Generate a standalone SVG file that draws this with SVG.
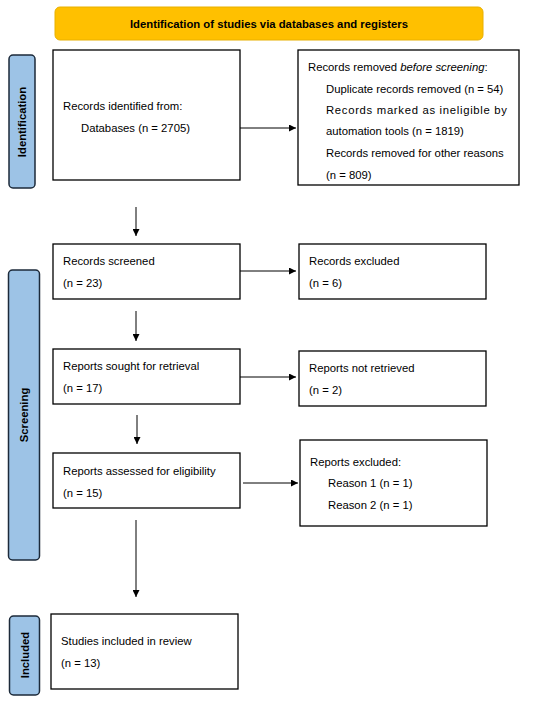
<svg xmlns="http://www.w3.org/2000/svg" width="550" height="702" viewBox="0 0 550 702">
<style>
text{font-family:"Liberation Sans",Arial,sans-serif;font-size:11.3px;fill:#000}
.b{font-weight:bold}
.box{fill:#fff;stroke:#000;stroke-width:1.3}
.side{fill:#9DC3E6;stroke:#1c2a3a;stroke-width:1.5}
.hdr{fill:#FFC000;stroke:#E8B000;stroke-width:1}
.c{stroke:#000;stroke-width:1;fill:none}
</style>
<defs>
<marker id="ah" viewBox="0 0 10 10" refX="10" refY="5" markerWidth="7" markerHeight="7" markerUnits="userSpaceOnUse" orient="auto"><path d="M0,0L10,5L0,10z" fill="#000"/></marker>
</defs>
<g id="header"><rect class="hdr" x="55" y="7" width="428" height="33" rx="5"/><text class="b" x="269" y="28" text-anchor="middle">Identification of studies via databases and registers</text></g>
<g id="lbl-identification"><rect class="side" x="9" y="55" width="26" height="133" rx="4"/><text class="b" transform="translate(26,122) rotate(-90)" text-anchor="middle" font-size="11.8">Identification</text></g>
<g id="lbl-screening"><rect class="side" x="8.5" y="270" width="31" height="290" rx="4"/><text class="b" transform="translate(28,415) rotate(-90)" text-anchor="middle">Screening</text></g>
<g id="lbl-included"><rect class="side" x="9.5" y="616" width="30" height="79" rx="4"/><text class="b" transform="translate(29,655) rotate(-90)" text-anchor="middle">Included</text></g>
<g id="n-identified"><rect class="box" x="53" y="50" width="187" height="130"/><text x="63" y="110">Records identified from:</text><text x="81" y="132">Databases (n = 2705)</text></g>
<g id="n-removed"><rect class="box" x="298" y="50" width="221" height="135"/><text x="308" y="71">Records removed <tspan font-style="italic">before screening</tspan>:</text><text x="326" y="93">Duplicate records removed (n = 54)</text><text x="326" y="114" textLength="181" lengthAdjust="spacing">Records marked as ineligible by</text><text x="326" y="135">automation tools (n = 1819)</text><text x="326" y="157">Records removed for other reasons</text><text x="326" y="179">(n = 809)</text></g>
<g id="n-screened"><rect class="box" x="53" y="244" width="187" height="55"/><text x="63" y="265">Records screened</text><text x="63" y="287">(n = 23)</text></g>
<g id="n-excluded"><rect class="box" x="299" y="244" width="187" height="55"/><text x="309" y="265">Records excluded</text><text x="309" y="287">(n = 6)</text></g>
<g id="n-sought"><rect class="box" x="53" y="349" width="187" height="55"/><text x="63" y="370">Reports sought for retrieval</text><text x="63" y="392">(n = 17)</text></g>
<g id="n-notretrieved"><rect class="box" x="299" y="351" width="187" height="55"/><text x="309" y="372">Reports not retrieved</text><text x="309" y="394">(n = 2)</text></g>
<g id="n-assessed"><rect class="box" x="53" y="453" width="187" height="55"/><text x="63" y="475">Reports assessed for eligibility</text><text x="63" y="497">(n = 15)</text></g>
<g id="n-reportsexcluded"><rect class="box" x="300" y="440" width="187" height="86"/><text x="310" y="466">Reports excluded:</text><text x="328" y="487">Reason 1 (n = 1)</text><text x="328" y="509">Reason 2 (n = 1)</text></g>
<g id="n-included"><rect class="box" x="51" y="614" width="187" height="75"/><text x="61" y="645">Studies included in review</text><text x="61" y="667">(n = 13)</text></g>
<g id="connectors">
<line class="c" x1="240" y1="128" x2="296" y2="128" marker-end="url(#ah)"/>
<line class="c" x1="136" y1="207" x2="136" y2="236" marker-end="url(#ah)"/>
<line class="c" x1="240" y1="271" x2="296" y2="271" marker-end="url(#ah)"/>
<line class="c" x1="136" y1="311" x2="136" y2="341" marker-end="url(#ah)"/>
<line class="c" x1="240" y1="377" x2="296" y2="377" marker-end="url(#ah)"/>
<line class="c" x1="137" y1="415" x2="137" y2="444" marker-end="url(#ah)"/>
<line class="c" x1="243" y1="483" x2="298" y2="483" marker-end="url(#ah)"/>
<line class="c" x1="136" y1="520" x2="136" y2="597" marker-end="url(#ah)"/>
</g>
</svg>
